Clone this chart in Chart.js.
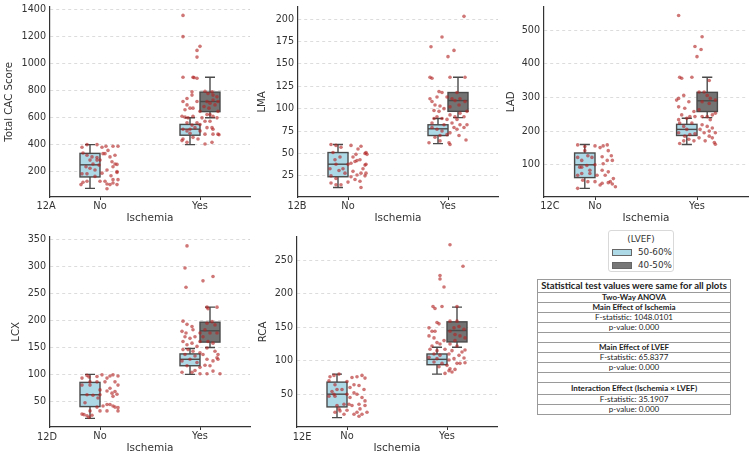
<!DOCTYPE html>
<html>
<head>
<meta charset="utf-8">
<script src="https://cdn.jsdelivr.net/npm/chart.js@4.4.0/dist/chart.umd.min.js"></script>
<style>
  body { margin:0; background:#fff; width:750px; height:456px; position:relative; overflow:hidden; font-family:"DejaVu Sans", sans-serif; }
  canvas { position:absolute; }
  .tag { position:absolute; font-size:9.8px; color:#333; transform:translate(-50%,-50%); white-space:nowrap; }
  #legend { position:absolute; left:608px; top:230px; width:64px; height:40px; border:1px solid #d9d9d9; border-radius:3px; font-size:8.8px; color:#333; white-space:nowrap; }
  #legend .ttl { position:absolute; left:0; right:0; top:3px; text-align:center; }
  #legend .row { position:absolute; left:3px; height:10px; line-height:10px; }
  #legend .sw { display:inline-block; width:18px; height:5px; border:1px solid #666; vertical-align:middle; margin-right:6px; }
  #stats { position:absolute; left:537px; top:279px; width:194px; border-collapse:collapse; font-family:Lato, sans-serif; color:#222; }
  #stats td { border:1px solid #9a9a9a; text-align:center; padding:0; height:9px; font-size:8px; line-height:9px; white-space:nowrap; }
  #stats td.h { font-size:9.5px; font-weight:bold; height:12px; line-height:12px; }
  #stats td.b { font-weight:bold; }
  #stats td.tall { height:11px; }
</style>
</head>
<body>
<canvas id="pA"></canvas>
<canvas id="pB"></canvas>
<canvas id="pC"></canvas>
<canvas id="pD"></canvas>
<canvas id="pE"></canvas>

<div id="legend">
  <div class="ttl">(LVEF)</div>
  <div class="row" style="top:16px"><span class="sw" style="background:#add8e6"></span><span id="lg0"></span></div>
  <div class="row" style="top:29px"><span class="sw" style="background:#777777"></span><span id="lg1"></span></div>
</div>

<table id="stats">
  <tr><td class="h">Statistical test values were same for all plots</td></tr>
  <tr><td class="b">Two-Way ANOVA</td></tr>
  <tr><td class="b">Main Effect of Ischemia</td></tr>
  <tr><td>F-statistic: 1048.0101</td></tr>
  <tr><td>p-value: 0.000</td></tr>
  <tr><td></td></tr>
  <tr><td class="b">Main Effect of LVEF</td></tr>
  <tr><td>F-statistic: 65.8377</td></tr>
  <tr><td>p-value: 0.000</td></tr>
  <tr><td></td></tr>
  <tr><td class="b tall">Interaction Effect (Ischemia × LVEF)</td></tr>
  <tr><td>F-statistic: 35.1907</td></tr>
  <tr><td>p-value: 0.000</td></tr>
</table>

<script>
const CATEGORIES = ["No", "Yes"];
const HUES = ["50-60%", "40-50%"];

// box stats: [lower whisker, q1, median, q3, upper whisker]
const CAC_NO_5060 = [75, 160, 250, 335, 400];
const CAC_YES_5060 = [400, 470, 515, 550, 600];
const CAC_YES_4050 = [600, 645, 720, 790, 900];
const CAC_TICKS = [200, 400, 600, 800, 1000, 1200, 1400];
// jittered points: [offset from group, value]
const CAC_NO_PTS = [[-0.18,381],[-0.13,400],[-0.03,400],[0.02,381],[0.06,388],[0.13,388],[0.18,388],[-0.17,338],[-0.13,321],[-0.08,309],
  [-0.03,304],[0,285],[0.08,357],[0.15,321],[0.05,333],[0.12,273],[0.15,256],[0.17,253],[0.13,236],[0.07,212],[0.17,200],[0.02,188],
  [0.11,169],[-0.18,183],[-0.13,183],[-0.17,120],[-0.13,128],[-0.07,256],[-0.03,285],[-0.1,224],[-0.05,212],[-0.01,248],[0,128],
  [0.05,128],[0.07,108],[0.1,103],[0.13,115],[0.17,103],[0.18,140],[0.13,140],[0.07,72],[-0.14,236],[0.03,333],[-0.05,164],
  [-0.1,285],[0.17,193],[0.1,309],[-0.19,103]];
const CAC_YES_PTS = [[-0.17,1360],[-0.17,1202],[-0.03,1100],[0,1130],[-0.03,1050],[-0.17,900],[-0.07,900],[-0.06,898],[-0.03,893],
  [-0.08,792],[-0.13,743],[-0.08,768],[-0.17,720],[-0.13,695],[-0.1,671],[-0.07,671],[-0.15,659],[-0.03,720],[0,647],[0.05,797],
  [0.08,780],[0.12,792],[0.13,768],[0.17,756],[0.18,720],[0.07,720],[0.1,708],[0.15,695],[0.04,683],[0.09,671],[0.13,732],[0.18,647],
  [0.07,623],[0.13,611],[0.17,599],[0.02,599],[0.05,574],[0.1,574],[-0.18,611],[-0.15,604],[-0.12,599],[-0.07,611],[-0.13,562],
  [-0.08,545],[-0.03,562],[-0.17,514],[-0.13,502],[-0.1,514],[-0.05,526],[0,502],[0.05,478],[0.07,526],[0.12,526],[0.13,514],
  [0.18,478],[0.13,478],[-0.18,430],[-0.13,417],[-0.07,454],[0.05,405],[0.12,417],[0.19,473],[-0.02,442],[-0.17,442],[-0.1,485],
  [0,550],[0.1,623]];

const LMA_NO_5060 = [12, 24, 38, 51, 60];
const LMA_YES_5060 = [61, 70, 77.5, 82, 89];
const LMA_YES_4050 = [90, 97, 109, 118, 135];
const LMA_TICKS = [25, 50, 75, 100, 125, 150, 175, 200];
const LMA_NO_PTS = [[-0.17,60],[-0.12,59],[-0.07,57],[0.03,59],[0.13,58],[0.18,51],[0.17,50],[0.1,55],[0.08,49],[0.05,46],[0.09,42],
  [0.12,43],[0.17,37],[0.18,38],[0.07,41],[0.03,39],[0,38],[-0.12,38],[-0.08,46],[-0.15,51],[-0.13,43],[-0.05,33],[-0.09,31],
  [-0.18,33],[-0.17,25],[-0.12,22],[-0.17,17],[-0.12,15],[-0.07,15],[0,18],[0.07,21],[0.13,28],[0.18,28],[0.17,25],[0.12,19],
  [0.13,12],[0.03,24],[0.09,26],[-0.03,28],[0.05,30],[0.15,33],[0.19,49]];
const LMA_YES_PTS = [[0.16,203],[-0.06,180],[-0.17,169],[0.06,165],[0,158],[-0.18,135],[-0.16,134],[0.02,135],[0.17,135],[-0.09,119],
  [-0.06,118],[0.09,118],[-0.18,111],[-0.16,108],[-0.11,113],[-0.01,113],[0.04,111],[0.07,109],[0.12,111],[0.17,108],[-0.13,104],
  [-0.08,103],[-0.04,100],[0.02,102],[0.11,104],[-0.14,98],[-0.09,97],[0.02,93],[0.07,91],[0.16,91],[-0.06,89],[-0.11,91],[-0.14,89],
  [-0.01,88],[0.09,88],[-0.16,84],[0.19,82],[0.12,82],[0.04,84],[-0.04,82],[0.16,79],[0.09,77],[-0.16,79],[-0.11,77],[-0.06,75],
  [0.02,73],[-0.01,71],[-0.08,70],[0.11,70],[0.18,65],[-0.19,62],[-0.08,64],[0.01,62],[0.02,60],[-0.13,68],[0.06,79],[0.12,95],[0.19,97]];

const LAD_NO_5060 = [30, 62, 100, 135, 160];
const LAD_YES_5060 = [160, 187, 205, 220, 238];
const LAD_YES_4050 = [240, 258, 290, 315, 360];
const LAD_TICKS = [100, 200, 300, 400, 500];
const LAD_NO_PTS = [[-0.17,159],[-0.1,154],[0,156],[0.08,156],[0.12,159],[-0.1,142],[0.05,151],[0.13,142],[0.16,127],[0.07,124],
  [-0.17,122],[-0.13,113],[-0.03,122],[0.12,113],[0.17,113],[0,100],[-0.08,98],[-0.15,93],[-0.05,84],[0.07,84],[0.13,79],[-0.13,74],
  [-0.05,74],[-0.17,69],[0.02,69],[0.1,69],[0.18,59],[-0.12,54],[-0.07,50],[0,50],[0.07,45],[0.13,47],[0.17,43],[0.05,40],[-0.17,30],
  [0.2,35],[0.15,50],[-0.13,93],[0.08,103],[-0.07,127]];
const LAD_YES_PTS = [[-0.18,543],[0.05,480],[-0.02,451],[0.04,442],[0,421],[-0.17,360],[-0.15,357],[-0.05,360],[0.12,350],[-0.2,292],
  [-0.18,297],[-0.13,306],[-0.08,287],[0.02,316],[0.07,316],[0.1,306],[0.13,297],[0.18,292],[0.05,287],[0.12,282],[-0.18,272],
  [-0.12,268],[-0.03,258],[0.02,263],[-0.15,248],[-0.07,243],[-0.02,243],[0.05,243],[0.1,243],[0.18,253],[0.15,248],[-0.18,234],
  [-0.1,238],[0.13,234],[-0.17,224],[-0.05,224],[-0.13,214],[0.05,219],[0.1,214],[0.15,209],[-0.1,205],[0.03,205],[0.12,200],
  [-0.18,195],[-0.02,192],[0.07,195],[0.18,195],[-0.12,185],[-0.07,190],[0.02,180],[0.12,185],[-0.08,176],[-0.03,171],[0.15,180],
  [0.08,171],[-0.13,171],[0.17,166],[0.18,161],[-0.17,163]];

const LCX_NO_5060 = [18, 40, 62, 85, 100];
const LCX_YES_5060 = [100, 116, 128, 138, 148];
const LCX_YES_4050 = [150, 160, 181, 197, 225];
const LCX_TICKS = [50, 100, 150, 200, 250, 300, 350];
const LCX_NO_PTS = [[-0.18,93],[-0.13,98],[-0.11,95],[-0.03,96],[0.02,99],[0.07,93],[0.1,97],[0.13,99],[0.18,97],[0.05,86],[0.15,86],
  [0.18,80],[-0.1,86],[-0.03,86],[-0.18,80],[0.1,74],[0.15,68],[0.17,63],[0,71],[0.07,69],[-0.13,62],[-0.07,61],[0,62],[0.13,59],
  [-0.02,56],[-0.15,47],[0.07,44],[0.13,41],[0.15,39],[0.18,38],[0.03,41],[0.1,44],[-0.03,39],[-0.1,32],[0,32],[0.07,32],[0.18,32],
  [-0.18,26],[-0.16,25],[-0.13,23],[-0.08,24],[-0.11,20],[-0.1,80],[0.12,65]];
const LCX_YES_PTS = [[-0.13,339],[-0.15,298],[-0.14,262],[0.03,274],[0.13,282],[-0.17,199],[-0.13,193],[-0.08,189],[0.07,225],[0.17,225],
  [0.08,222],[-0.18,180],[-0.14,177],[-0.07,183],[0,177],[0.07,195],[0.12,198],[0.15,192],[0.05,183],[0.1,177],[0.17,177],[-0.15,170],
  [-0.1,167],[-0.05,170],[0.03,170],[0.08,161],[0.13,158],[0,161],[-0.17,161],[-0.13,155],[-0.08,158],[-0.03,152],[0.07,149],
  [0.15,143],[0.18,137],[-0.17,146],[-0.12,146],[-0.07,143],[0,140],[-0.15,137],[-0.05,134],[0.03,137],[0.17,131],[0.18,128],
  [-0.1,128],[-0.18,125],[-0.03,122],[0.07,128],[0.1,116],[0.13,125],[-0.13,116],[0,113],[0.05,117],[-0.18,104],[-0.08,104],
  [0,101],[0.13,106],[0.2,101],[0.07,101],[-0.05,107]];

const RCA_NO_5060 = [15, 31, 50, 68, 80];
const RCA_YES_5060 = [80, 94, 102, 110, 120];
const RCA_YES_4050 = [120, 128, 145, 158, 180];
const RCA_TICKS = [50, 100, 150, 200, 250];
const RCA_NO_PTS = [[-0.18,70],[-0.17,76],[-0.13,78],[-0.08,80],[0,69],[0.05,75],[0.1,76],[0.15,78],[0.18,74],[0.07,64],[0.12,63],
  [0.03,60],[0.17,57],[-0.12,64],[-0.1,57],[-0.05,57],[-0.13,50],[-0.12,47],[-0.18,47],[0.07,52],[0.1,50],[0,50],[0.03,45],[0.15,45],
  [0.18,40],[-0.03,35],[0.02,35],[0.05,33],[0.12,35],[0.18,33],[0.2,23],[0.13,28],[0.1,23],[0.07,20],[0.12,17],[-0.08,28],[-0.07,25],
  [-0.03,20],[-0.12,23],[-0.1,33],[0,26],[0.15,20],[-0.15,54]];
const RCA_YES_PTS = [[0.03,273],[0.16,241],[-0.07,227],[-0.07,222],[-0.03,210],[-0.14,181],[-0.12,178],[-0.05,181],[0.1,181],[-0.1,157],
  [-0.08,155],[0.03,159],[0.1,159],[-0.18,149],[-0.15,144],[-0.12,144],[0.07,149],[0.12,151],[0.17,147],[0.03,144],[0.08,139],
  [0.13,137],[0.18,134],[-0.18,137],[-0.13,134],[-0.03,130],[0.08,130],[0.03,125],[-0.1,127],[-0.15,122],[-0.07,125],[0.1,122],
  [-0.17,117],[-0.1,115],[-0.02,117],[0.05,115],[0.15,113],[0.18,116],[-0.13,110],[-0.07,108],[0.02,110],[0.12,108],[-0.18,105],
  [-0.1,103],[0.07,103],[0.17,104],[-0.13,98],[-0.05,96],[0.02,101],[0.1,96],[0.13,96],[0.18,97],[-0.08,91],[0,93],[0.03,88],
  [0.02,85],[0.05,83],[-0.02,81],[0.08,87]];

const LIGHT = "#add8e6", DARK = "#737373", EDGE = "#4a4a4a", DOT = "rgba(178,34,34,0.62)";
document.getElementById("lg0").textContent = HUES[0];
document.getElementById("lg1").textContent = HUES[1];

// draws box + whiskers from the stats arrays, through the chart scales
const boxPlugin = {
  id: "boxes",
  beforeDatasetsDraw(chart, args, opts) {
    const { ctx, scales: { x, y } } = chart;
    opts.items.forEach(b => {
      const [lo, q1, med, q3, hi] = b.stats;
      const x0 = x.getPixelForValue(b.pos - 0.1), x1 = x.getPixelForValue(b.pos + 0.1);
      const xc = x.getPixelForValue(b.pos), cw = (x1 - x0) / 4;
      const py = v => y.getPixelForValue(v);
      ctx.save();
      ctx.strokeStyle = EDGE;
      ctx.lineWidth = 1.4;
      ctx.beginPath();
      ctx.moveTo(xc, py(q1)); ctx.lineTo(xc, py(lo));
      ctx.moveTo(xc - cw, py(lo)); ctx.lineTo(xc + cw, py(lo));
      ctx.moveTo(xc, py(q3)); ctx.lineTo(xc, py(hi));
      ctx.moveTo(xc - cw, py(hi)); ctx.lineTo(xc + cw, py(hi));
      ctx.stroke();
      ctx.fillStyle = b.color;
      ctx.fillRect(x0, py(q3), x1 - x0, py(q1) - py(q3));
      ctx.strokeRect(x0, py(q3), x1 - x0, py(q1) - py(q3));
      ctx.beginPath();
      ctx.moveTo(x0, py(med)); ctx.lineTo(x1, py(med));
      ctx.stroke();
      ctx.restore();
    });
  }
};

const PANELS = [
  { id:"pA", tag:"12A", tagX:46, tagY:205, label:"Total CAC Score", axisX:50, top:3, bottom:197, right:250, yw:47, min:11, max:1424,
    ticks:CAC_TICKS, no:CAC_NO_PTS, yes:CAC_YES_PTS, boxes:[CAC_NO_5060, CAC_YES_5060, CAC_YES_4050] },
  { id:"pB", tag:"12B", tagX:297, tagY:205, label:"LMA", axisX:298, top:3, bottom:197, right:498, yw:42, min:1.4, max:213.7,
    ticks:LMA_TICKS, no:LMA_NO_PTS, yes:LMA_YES_PTS, boxes:[LMA_NO_5060, LMA_YES_5060, LMA_YES_4050] },
  { id:"pC", tag:"12C", tagX:550, tagY:205, label:"LAD", axisX:544, top:3, bottom:197, right:748, yw:39, min:4.4, max:569,
    ticks:LAD_TICKS, no:LAD_NO_PTS, yes:LAD_YES_PTS, boxes:[LAD_NO_5060, LAD_YES_5060, LAD_YES_4050] },
  { id:"pD", tag:"12D", tagX:47, tagY:436, label:"LCX", axisX:50, top:233, bottom:427, right:250, yw:40, min:2, max:356,
    ticks:LCX_TICKS, no:LCX_NO_PTS, yes:LCX_YES_PTS, boxes:[LCX_NO_5060, LCX_YES_5060, LCX_YES_4050] },
  { id:"pE", tag:"12E", tagX:302, tagY:436, label:"RCA", axisX:297, top:233, bottom:427, right:497, yw:40, min:1, max:285,
    ticks:RCA_TICKS, no:RCA_NO_PTS, yes:RCA_YES_PTS, boxes:[RCA_NO_5060, RCA_YES_5060, RCA_YES_4050] }
];

const PAD_TOP = 6, PAD_RIGHT = 2, XH = 28;

function renderPanel(p) {
  const cv = document.getElementById(p.id);
  const w = p.yw + (p.right - p.axisX) + PAD_RIGHT;
  const h = (p.bottom - p.top) + PAD_TOP + XH;
  cv.width = w; cv.height = h;
  cv.style.left = (p.axisX - p.yw) + "px";
  cv.style.top = (p.top - PAD_TOP) + "px";

  const tag = document.createElement("div");
  tag.className = "tag";
  tag.textContent = p.tag;
  tag.style.left = p.tagX + "px";
  tag.style.top = p.tagY + "px";
  document.body.appendChild(tag);

  const pts = [].concat(
    p.no.map(([o, v]) => ({ x: 0 + o, y: v })),
    p.yes.map(([o, v]) => ({ x: 1 + o, y: v }))
  );

  new Chart(cv.getContext("2d"), {
    type: "scatter",
    data: { datasets: [{ data: pts, pointRadius: 1.8, pointHoverRadius: 1.8, borderWidth: 0, backgroundColor: DOT }] },
    plugins: [boxPlugin],
    options: {
      responsive: false,
      animation: false,
      layout: { padding: { top: PAD_TOP, right: PAD_RIGHT, left: 0, bottom: 0 } },
      plugins: {
        legend: { display: false },
        tooltip: { enabled: false },
        boxes: { items: [
          { pos: -0.1, stats: p.boxes[0], color: LIGHT },
          { pos: 0.9, stats: p.boxes[1], color: LIGHT },
          { pos: 1.1, stats: p.boxes[2], color: DARK }
        ] }
      },
      scales: {
        x: {
          type: "linear", min: -0.5, max: 1.5,
          afterBuildTicks: s => { s.ticks = CATEGORIES.map((c, i) => ({ value: i })); },
          afterFit: s => { s.height = XH; },
          grid: { drawOnChartArea: false, drawTicks: true, tickLength: 3, color: "#333", lineWidth: 1 },
          border: { color: "#333", width: 1.2 },
          ticks: { color: "#333", font: { family: "DejaVu Sans", size: 9.8 }, padding: 1, callback: v => CATEGORIES[v] },
          title: { display: true, text: "Ischemia", color: "#333", font: { family: "DejaVu Sans", size: 10.5 }, padding: { top: 0, bottom: 0 } }
        },
        y: {
          min: p.min, max: p.max,
          afterBuildTicks: s => { s.ticks = p.ticks.map(v => ({ value: v })); },
          afterFit: s => { s.width = p.yw; },
          grid: { color: "#d4d4d4", lineWidth: 0.8, drawTicks: false },
          border: { color: "#333", width: 1.2, dash: [3, 3] },
          ticks: { color: "#333", font: { family: "DejaVu Sans", size: 9.6 }, padding: 4, callback: v => String(v) },
          title: { display: true, text: p.label, color: "#333", font: { family: "DejaVu Sans", size: 10.2 }, padding: { top: 0, bottom: 0 } }
        }
      }
    }
  });
}

PANELS.forEach(renderPanel);
</script>
</body>
</html>
